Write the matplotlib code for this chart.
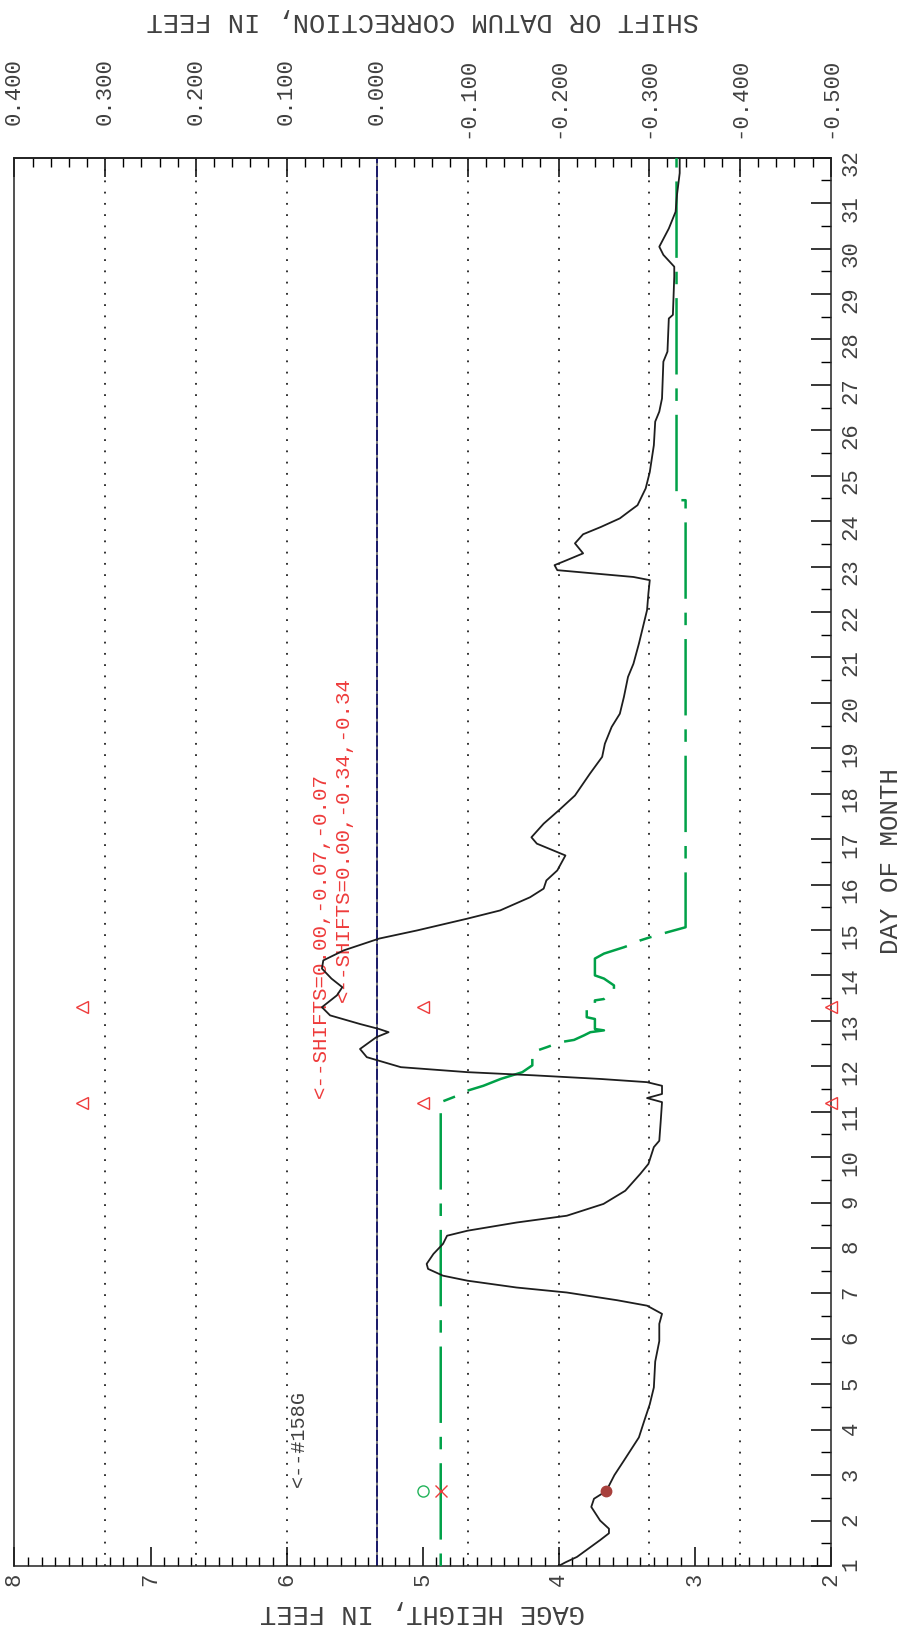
import matplotlib
matplotlib.use('Agg')
import matplotlib.pyplot as plt
from matplotlib.ticker import MultipleLocator, FixedLocator

plt.rcParams['font.family'] = ['Liberation Mono', 'DejaVu Sans Mono']
plt.rcParams['lines.scale_dashes'] = False

# gage height record: day of month vs feet
day = [1.00, 1.08, 1.20, 1.57, 1.72, 1.82, 2.00, 2.30, 2.48, 2.65, 3.00, 3.32,
       3.83, 4.20, 4.56, 4.93, 5.50, 5.95, 6.33, 6.55, 6.73, 6.85, 7.02, 7.13,
       7.28, 7.39, 7.54, 7.65, 7.87, 8.09, 8.27, 8.38, 8.56, 8.71, 8.97, 9.26,
       9.63, 9.85, 10.22, 10.36, 10.77, 11.21, 11.30, 11.39, 11.57, 11.65, 11.72,
       11.80, 11.87, 11.98, 12.20, 12.38, 12.64, 12.75, 12.82, 12.93, 13.12, 13.30,
       13.56, 13.74, 13.93, 14.15, 14.33, 14.55, 14.81, 14.99, 15.25, 15.43, 15.72,
       15.91, 16.09, 16.31, 16.64, 16.90, 17.04, 17.34, 17.63, 17.96, 18.44, 18.81,
       19.10, 19.47, 19.76, 20.13, 20.57, 20.86, 21.30, 21.67, 22.04, 22.41, 22.70,
       22.77, 22.92, 23.03, 23.14, 23.29, 23.51, 23.71, 23.87, 24.06, 24.24, 24.35,
       24.72, 25.08, 25.67, 26.19, 26.41, 26.70, 27.51, 27.73, 28.46, 28.54, 29.38,
       29.60, 29.86, 30.04, 30.44, 30.81, 31.18, 31.66, 32.00]
gage = [4.00, 3.95, 3.865, 3.695, 3.63, 3.63, 3.695, 3.76, 3.74, 3.65, 3.59, 3.52,
        3.41, 3.37, 3.33, 3.30, 3.29, 3.26, 3.26, 3.24, 3.35, 3.57, 3.94, 4.31,
        4.67, 4.85, 4.96, 4.97, 4.92, 4.85, 4.82, 4.67, 4.31, 3.94, 3.67, 3.51,
        3.40, 3.34, 3.30, 3.26, 3.25, 3.24, 3.35, 3.24, 3.24, 3.35, 3.69,
        4.18, 4.67, 5.16, 5.41, 5.46, 5.34, 5.25, 5.32, 5.46, 5.68, 5.74,
        5.63, 5.59, 5.67, 5.74, 5.73, 5.58, 5.32, 5.04, 4.67, 4.43, 4.21,
        4.11, 4.09, 4.01, 3.95, 4.16, 4.20, 4.11, 4.00, 3.88, 3.77, 3.68,
        3.66, 3.61, 3.55, 3.52, 3.49, 3.45, 3.41, 3.38, 3.35, 3.34, 3.33,
        3.45, 4.01, 4.03, 3.94, 3.82, 3.88, 3.82, 3.69, 3.55, 3.47, 3.42,
        3.36, 3.33, 3.30, 3.29, 3.26, 3.24, 3.23, 3.20, 3.19, 3.16, 3.15,
        3.15, 3.23, 3.26, 3.19, 3.14, 3.13, 3.11, 3.11]

# shift applied through the month (feet)
shift_day = [1.00, 11.21, 11.35, 11.46, 11.57, 11.72, 11.87, 12.02, 12.31, 12.42,
             12.53, 12.58, 12.68, 12.75, 12.79, 12.82, 13.04, 13.08, 13.26, 13.30,
             13.45, 13.48, 13.67, 13.78, 13.93, 14.00, 14.37, 14.48, 14.55, 14.62,
             14.70, 14.77, 14.84, 14.95, 15.06, 24.46, 24.46, 32.00]
shift_val = [-0.07, -0.07, -0.088, -0.099, -0.117, -0.136, -0.160, -0.171, -0.171, -0.187,
             -0.202, -0.217, -0.228, -0.235, -0.250, -0.240, -0.240, -0.231, -0.231, -0.240,
             -0.240, -0.250, -0.261, -0.261, -0.250, -0.240, -0.240, -0.250, -0.261, -0.272,
             -0.283, -0.290, -0.301, -0.320, -0.340, -0.340, -0.330, -0.330]

# field reading on day 2.65
obs_day = 2.65
obs_gage = 3.65
obs_ref_gage = 5.0
obs_shift = -0.07

# measurement triangles
tri_day = [11.2, 13.3]
tri_gage = [7.5, 5.0, 2.0]

shift_ticks = [0.4, 0.3, 0.2, 0.1, 0.0, -0.1, -0.2, -0.3, -0.4, -0.5]
grid_shifts = [0.3, 0.2, 0.1, -0.1, -0.2, -0.3, -0.4]


def shift_to_gage(s):
    return 8 + (s - 0.4) * (6 / 0.9)


def gage_to_shift(g):
    return 0.4 + (g - 8) * 0.15


ink = '#404040'
red = '#ee3b3b'
green = '#00a148'

fig = plt.figure(figsize=(9.05, 16.27), dpi=100)
ax = fig.add_axes([0.016, 0.0375, 0.9019, 0.8656])
ax.set_xlim(8, 2)
ax.set_ylim(1, 32)

for s in grid_shifts:
    ax.axvline(shift_to_gage(s), color='#222222', lw=1.3, dashes=(1.3, 6.8), zorder=1)
ax.axvline(shift_to_gage(0.0), color='#808080', lw=1.4, zorder=2)
ax.axvline(shift_to_gage(0.0), color='#1b1b6b', lw=1.4, dashes=(8, 2), zorder=2)

ax.plot([shift_to_gage(s) for s in shift_val], shift_day, color=green, lw=1.8,
        dashes=(9, 10, 55, 10), zorder=3)
ax.plot(gage, day, color='#1e1e1e', lw=1.3, zorder=4)

ax.plot(obs_gage, obs_day, 'o', color='#a8403c', ms=7.5, zorder=5)
ax.plot(obs_ref_gage, obs_day, 'o', mfc='none', mec='#22b35a', ms=8, mew=1, zorder=5)
ax.plot(shift_to_gage(obs_shift), obs_day, 'x', color=red, ms=8, mew=1, zorder=5)
for g in tri_gage:
    ax.plot([g] * len(tri_day), tri_day, '<', mfc='none', mec=red, ms=9, mew=1,
            clip_on=False, zorder=5)

ax.text(5.91, 2.74, '<--#158G', rotation=90, ha='center', va='bottom',
        fontsize=14.5, color=ink)
ax.text(5.753, 11.3, '<--SHIFTS=0.00,-0.07,-0.07', rotation=90, ha='center',
        va='bottom', fontsize=15, color=red)
ax.text(5.58, 13.41, '<--SHIFTS=0.00,-0.34,-0.34', rotation=90, ha='center',
        va='bottom', fontsize=15, color=red)

for sp in ax.spines.values():
    sp.set_linewidth(1.1)
    sp.set_color('#222222')

# gage height along the bottom
ax.xaxis.set_major_locator(FixedLocator(range(2, 9)))
ax.xaxis.set_minor_locator(MultipleLocator(0.1))
ax.tick_params(axis='x', which='major', direction='in', length=13.7, width=1.1,
               labelrotation=90, pad=5, labelsize=16, labelcolor=ink)
ax.tick_params(axis='x', which='minor', direction='in', length=6.5, width=1.0)

# day of month on the right
ax.yaxis.tick_right()
ax.yaxis.set_major_locator(FixedLocator(range(1, 33)))
ax.yaxis.set_minor_locator(MultipleLocator(0.5))
ax.tick_params(axis='y', which='major', direction='in', length=14.4, width=1.1,
               labelrotation=90, pad=7, labelsize=16, labelcolor=ink,
               left=False, right=True)
ax.tick_params(axis='y', which='minor', direction='in', length=7, width=1.0,
               left=False, right=True)

# shift scale along the top
sec = ax.secondary_xaxis('top', functions=(gage_to_shift, shift_to_gage))
sec.set_xticks(shift_ticks, ['%.3f' % s for s in shift_ticks])
sec.xaxis.set_minor_locator(MultipleLocator(0.02))
sec.tick_params(axis='x', which='major', direction='in', length=13.7, width=1.1,
                labelrotation=90, pad=72, labelsize=16, labelcolor=ink)
sec.tick_params(axis='x', which='minor', direction='in', length=6.5, width=1.0)
for lab in sec.get_xticklabels():
    lab.set_verticalalignment('top')
sec.spines['top'].set_linewidth(1.1)

fig.text(0.467, 0.9877, 'SHIFT OR DATUM CORRECTION, IN FEET', rotation=180,
         ha='center', va='center', fontsize=19.5, color=ink)
fig.text(0.467, 0.0092, 'GAGE HEIGHT, IN FEET', rotation=180,
         ha='center', va='center', fontsize=19.5, color=ink)
fig.text(0.998, 0.4708, 'DAY OF MONTH', rotation=90,
         ha='right', va='center', fontsize=18.5, color=ink)

fig.savefig('out.png', dpi=100)
